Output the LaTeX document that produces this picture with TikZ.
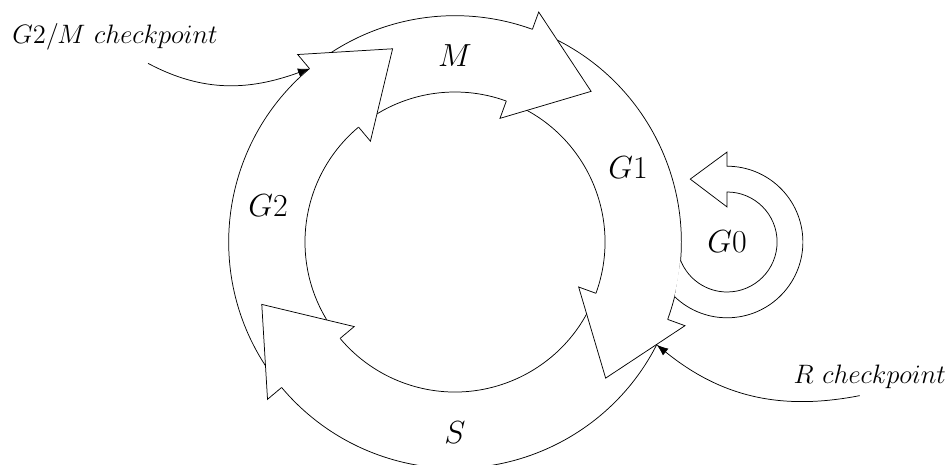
\documentclass[tikz,border=0pt]{standalone}
\usetikzlibrary{arrows.meta}
\begin{document}
\begin{tikzpicture}[
    font=\LARGE,
    band/.style={draw=black},
    head/.style={draw=black,fill=white},
    chk/.style={-{Latex[length=2.2mm]}},
    cplbl/.style={font=\Large}
  ]
  \useasboundingbox (-8.645,-4.237) rectangle (9.443,4.598);

  % phase bands: inner radius 2.85, outer radius 4.3
  \draw[band] (130:2.85) arc[start angle=130,end angle=70,radius=2.85]
              (130:4.3) arc[start angle=130,end angle=70,radius=4.3];
  \draw[band] (70:2.85) arc[start angle=70,end angle=-20,radius=2.85]
              (70:4.3) arc[start angle=70,end angle=-20,radius=4.3];
  \draw[band] (-20:2.85) arc[start angle=-20,end angle=-140,radius=2.85]
              (-20:4.3) arc[start angle=-20,end angle=-140,radius=4.3];
  \draw[band] (220:2.85) arc[start angle=220,end angle=130,radius=2.85]
              (220:4.3) arc[start angle=220,end angle=130,radius=4.3];

  % heads go on top, so each one hides the tail of the next band
  \draw[head] (70:2.85) -- (70:2.5) -- (47.9:3.858) -- (70:4.65) -- (70:4.3);
  \draw[head] (-20:2.85) -- (-20:2.5) -- (-42.1:3.858) -- (-20:4.65) -- (-20:4.3);
  \draw[head] (-140:2.85) -- (-140:2.5) -- (-162.1:3.858) -- (-140:4.65) -- (-140:4.3);
  \draw[head] (130:2.85) -- (130:2.5) -- (107.9:3.858) -- (130:4.65) -- (130:4.3);

  \node (m)  at (0,3.55)     {$M$};
  \node (g1) at (3.29,1.41)  {$G1$};
  \node (s)  at (0,-3.63)    {$S$};
  \node (g2) at (-3.55,0.70) {$G2$};

  % G0 loop, its tail starts on the outer circle of G1
  \begin{scope}[shift={(5.17,0)}]
    \draw[head] (226.2:1.44) arc[start angle=226.2,end angle=450,radius=1.44]
      -- (90:1.71) -- (-0.70,1.195) -- (90:0.665) -- (90:0.95)
      arc[start angle=90,end angle=-158.5,radius=0.95];
    \node (g0) at (0,0) {$G0$};
  \end{scope}

  \coordinate (g2mpt) at (130:4.3);
  \coordinate (rpt)   at (-27:4.3);

  \node[cplbl] (g2m) at (-6.46,3.90) {$G2/M\ checkpoint$};
  \node[cplbl] (rcp) at (7.88,-2.57) {$R\ checkpoint$};

  \draw[chk] ([xshift=0.63cm,yshift=-0.13cm]g2m.south) to[out=-28,in=200] (g2mpt);
  \draw[chk] ([xshift=-0.19cm]rcp.south) to[out=191,in=-39] (rpt);
\end{tikzpicture}
\end{document}
